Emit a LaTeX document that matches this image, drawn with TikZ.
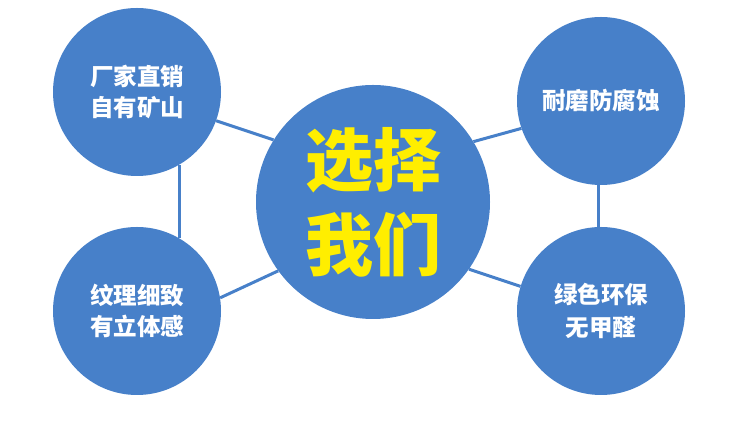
\documentclass[tikz,border=0pt]{standalone}
\usepackage{fontspec}
\usepackage{tikz}
\usepackage{xcolor}
\newfontfamily\cjk{Noto Sans CJK SC}
\definecolor{ballblue}{RGB}{71,128,201}
\definecolor{titleyellow}{RGB}{255,238,0}

\begin{document}
\begin{tikzpicture}[x=1pt, y=1pt,
  ball/.style={circle,fill=ballblue,minimum size=168pt,inner sep=0pt,text=white,
    font=\cjk\bfseries\fontsize{23.5}{31}\selectfont,align=center},
  link/.style={draw=ballblue,line width=3pt}]
  \useasboundingbox (0,0) rectangle (750,427);
  % Nodes
  \node[ball,minimum size=234pt,text=titleyellow,font=\cjk\bfseries\fontsize{68}{85}\selectfont] (Choose) at (373,225) {选择\\我们};
  \node[ball] (Direct) at (137,335) {厂家直销\\自有矿山};
  \node[ball] (Texture) at (137,116) {纹理细致\\有立体感};
  \node[ball] (Resist) at (601,326) {耐磨防腐蚀};
  \node[ball] (Green) at (601,116) {绿色环保\\[2pt]无甲醛};
  % Edges
  \draw[link] (Direct.-20) -- (Choose.148);
  \draw[link] (Texture.9) -- (Choose.216);
  \draw[link] (Choose.31) -- (Resist.199);
  \draw[link] (Choose.-35) -- (Green.163);
  \draw[link] (Direct.-60) -- (Texture.60);
  \draw[link] (Resist.-92) -- (Green.92);
\end{tikzpicture}
\end{document}
